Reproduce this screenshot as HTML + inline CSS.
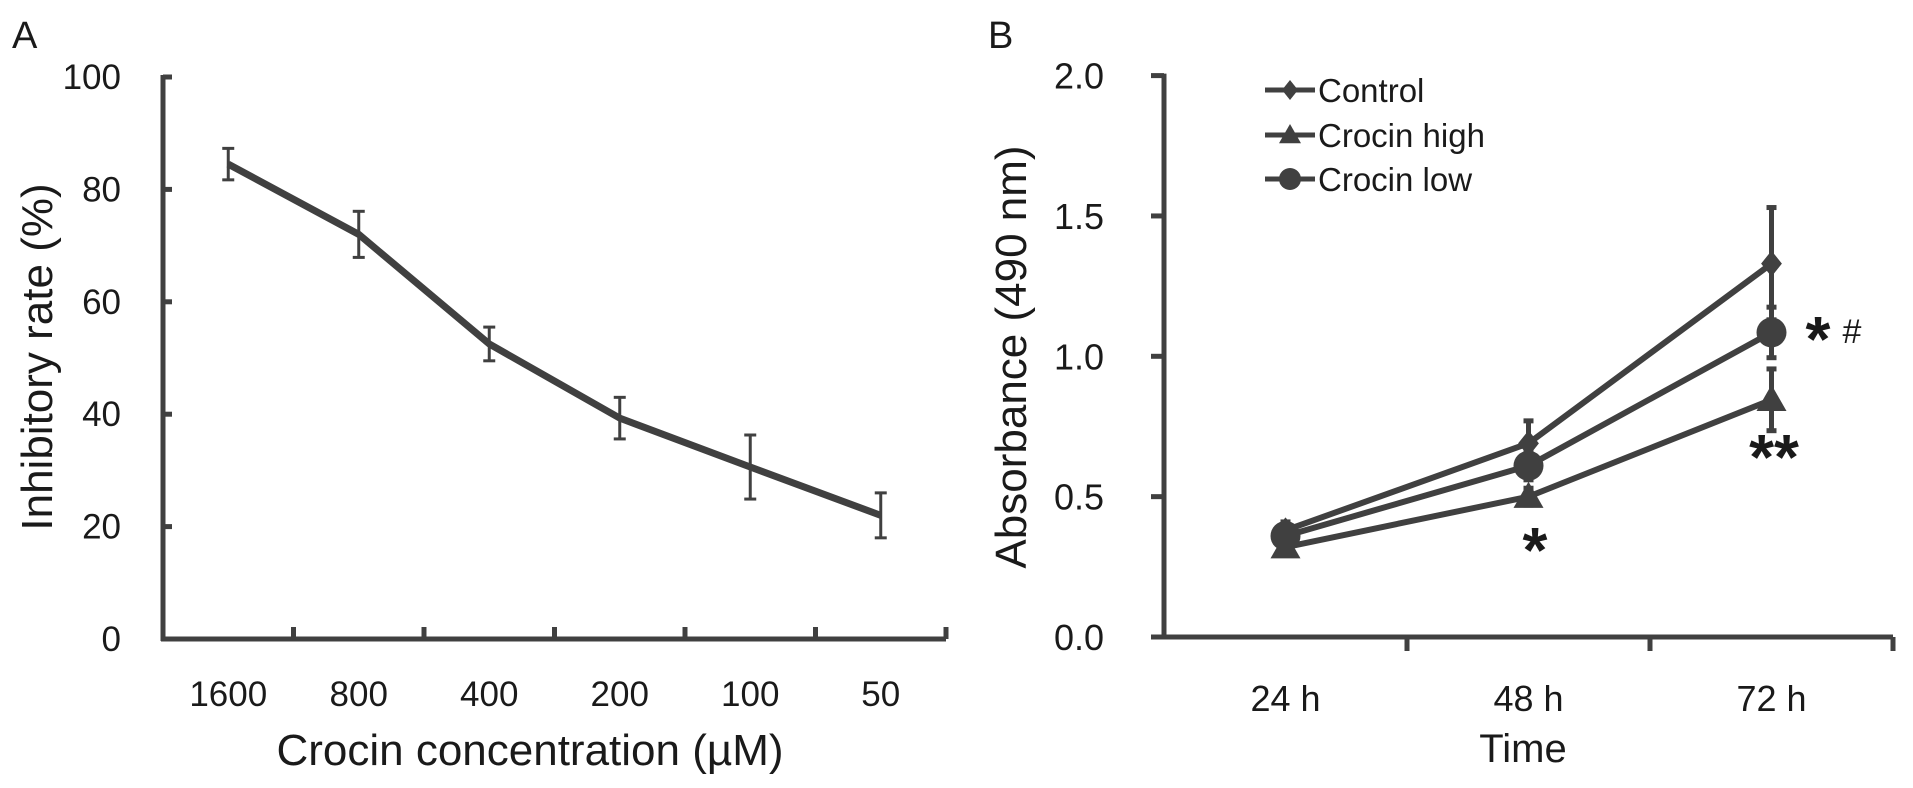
<!DOCTYPE html>
<html><head><meta charset="utf-8"><style>
html,body{margin:0;padding:0;background:#fff;}
svg{display:block;font-family:"Liberation Sans",Arial,sans-serif;}
</style></head><body>
<svg id="fig" width="1913" height="788" viewBox="0 0 1913 788">
<g id="pa"></g>
<g id="pb"></g>
</svg>
<script>
// Panel A data
const catsA = ["1600","800","400","200","100","50"];
const valsA = [84.5,72,52.5,39.3,30.6,22];
const errsA = [2.8,4.1,3.0,3.7,5.7,4.0];
const ticksA = [0,20,40,60,80,100];
// Panel B data
const catsB = ["24 h","48 h","72 h"];
const seriesNames = ["Control","Crocin high","Crocin low"];
const ctrlB = [0.38,0.69,1.33];
const highB = [0.32,0.50,0.845];
const lowB = [0.36,0.61,1.085];
const ctrlErr = [0.03,0.08,0.2];
const highErr = [0.02,0.03,0.11];
const lowErr = [0.02,0.05,0.09];
const ticksB = [0,0.5,1.0,1.5,2.0];

const NS="http://www.w3.org/2000/svg";
const C="#404040", T="#1a1a1a";
function mk(p,tag,attrs,txt){const e=document.createElementNS(NS,tag);for(const k in attrs)e.setAttribute(k,attrs[k]);if(txt!=null)e.textContent=txt;p.appendChild(e);return e;}

// ---------- Panel A ----------
const pa=document.getElementById('pa');
const ax0=163, ax1=946, ay0=639, ay1=77;
const yA=v=>ay0-(v/100)*(ay0-ay1);
const bwA=(ax1-ax0)/catsA.length;
const xA=i=>ax0+bwA*(i+0.5);
let t=mk(pa,'text',{x:12,y:48,'font-size':38,fill:T},'A');

let l=mk(pa,'line',{x1:ax0,y1:ay1-2,x2:ax0,y2:ay0+2,stroke:C,'stroke-width':5});

l=mk(pa,'line',{x1:ax0-2,y1:ay0,x2:ax1,y2:ay0,stroke:C,'stroke-width':5});

ticksA.forEach(v=>{
  const tk=mk(pa,'line',{x1:ax0,y1:yA(v),x2:ax0+9,y2:yA(v),stroke:C,'stroke-width':5});
  
  const tl=mk(pa,'text',{x:121,y:yA(v)+12,'font-size':35,'text-anchor':'end',fill:T},String(v));
  
});
catsA.forEach((c,i)=>{
  const bx=ax0+bwA*(i+1);
  const tk=mk(pa,'line',{x1:bx,y1:ay0,x2:bx,y2:ay0-12,stroke:C,'stroke-width':5});
  
  const tl=mk(pa,'text',{x:xA(i),y:706,'font-size':35,'text-anchor':'middle',fill:T},c);
  
});
t=mk(pa,'text',{x:530,y:765,'font-size':44,'text-anchor':'middle',fill:T},'Crocin concentration (µM)');

t=mk(pa,'text',{x:0,y:0,'font-size':44,'text-anchor':'middle',fill:T,transform:'translate(52,357) rotate(-90)'},'Inhibitory rate (%)');

let ptsA=valsA.map((v,i)=>xA(i)+','+yA(v)).join(' ');
l=mk(pa,'polyline',{points:ptsA,fill:'none',stroke:C,'stroke-width':7,'stroke-linejoin':'round'});

valsA.forEach((v,i)=>{
  const g=mk(pa,'g',{stroke:C,'stroke-width':3});
  
  const x=xA(i),y1=yA(v+errsA[i]),y2=yA(v-errsA[i]);
  mk(g,'line',{x1:x,y1:y1,x2:x,y2:y2});
  mk(g,'line',{x1:x-6,y1:y1,x2:x+6,y2:y1});
  mk(g,'line',{x1:x-6,y1:y2,x2:x+6,y2:y2});
});

// ---------- Panel B ----------
const pb=document.getElementById('pb');
const bx0=1164, bx1=1893, by0=637, by1=75.6;
const yB=v=>by0-(v/2)*(by0-by1);
const bwB=(bx1-bx0)/catsB.length;
const xB=i=>bx0+bwB*(i+0.5);
t=mk(pb,'text',{x:988,y:48,'font-size':38,fill:T},'B');

l=mk(pb,'line',{x1:bx0,y1:by1-2,x2:bx0,y2:by0+2,stroke:C,'stroke-width':5});

l=mk(pb,'line',{x1:bx0-2,y1:by0,x2:bx1,y2:by0,stroke:C,'stroke-width':5});

ticksB.forEach(v=>{
  const tk=mk(pb,'line',{x1:bx0-13,y1:yB(v),x2:bx0,y2:yB(v),stroke:C,'stroke-width':5});
  
  const tl=mk(pb,'text',{x:1104,y:yB(v)+13,'font-size':36,'text-anchor':'end',fill:T},v.toFixed(1));
  
});
catsB.forEach((c,i)=>{
  const bx=bx0+bwB*(i+1);
  const tk=mk(pb,'line',{x1:bx,y1:by0,x2:bx,y2:by0+14,stroke:C,'stroke-width':5});
  
  const tl=mk(pb,'text',{x:xB(i),y:711,'font-size':36,'text-anchor':'middle',fill:T},c);
  
});
t=mk(pb,'text',{x:1523,y:762,'font-size':40,'text-anchor':'middle',fill:T},'Time');

t=mk(pb,'text',{x:0,y:0,'font-size':44,'text-anchor':'middle',fill:T,transform:'translate(1026,357) rotate(-90)'},'Absorbance (490 nm)');


function marker(p,type,x,y,s){
  if(type==='diamond') return mk(p,'polygon',{points:`${x},${y-s} ${x+s*0.8},${y} ${x},${y+s} ${x-s*0.8},${y}`,fill:C});
  if(type==='triangle') return mk(p,'polygon',{points:`${x},${y-s} ${x+s},${y+s*0.75} ${x-s},${y+s*0.75}`,fill:C});
  return mk(p,'circle',{cx:x,cy:y,r:s,fill:C});
}
const seriesB=[[ctrlB,ctrlErr,'diamond',13,'control'],[highB,highErr,'triangle',15,'crocin-high'],[lowB,lowErr,'circle',15,'crocin-low']];
seriesB.forEach(([vals,errs,type,s,nm])=>{
  const g=mk(pb,'g',{});
  
  vals.forEach((v,i)=>{
    const eb=mk(g,'g',{stroke:C,'stroke-width':5});
    
    const x=xB(i);
    mk(eb,'line',{x1:x,y1:yB(v+errs[i]),x2:x,y2:yB(v-errs[i])});
    mk(eb,'line',{x1:x-5,y1:yB(v+errs[i]),x2:x+5,y2:yB(v+errs[i])});
    mk(eb,'line',{x1:x-5,y1:yB(v-errs[i]),x2:x+5,y2:yB(v-errs[i])});
  });
  const ln=mk(g,'polyline',{points:vals.map((v,i)=>xB(i)+','+yB(v)).join(' '),fill:'none',stroke:C,'stroke-width':6});
  
  vals.forEach((v,i)=>{
    const m=marker(g,type,xB(i),yB(v),s);
    
  });
});
// legend
const legTypes=['diamond','triangle','circle'];
const legY=[90,135,179];
seriesNames.forEach((n,i)=>{
  const g=mk(pb,'g',{});
  
  mk(g,'line',{x1:1265,y1:legY[i],x2:1315,y2:legY[i],stroke:C,'stroke-width':5});
  marker(g,legTypes[i],1290,legY[i],i===0?10:11);
  mk(g,'text',{x:1318,y:legY[i]+12,'font-size':33,fill:T},n);
});
// significance marks
[[1535,572,'*',64,'sig-48h-high'],[1774,479,'**',64,'sig-72h-high'],[1818,361,'*',64,'sig-72h-low']].forEach(([x,y,s,f,nm])=>{
  const tt=mk(pb,'text',{x:x,y:y,'font-size':f,'font-weight':'bold','text-anchor':'middle',fill:T},s);
  
});
t=mk(pb,'text',{x:1852,y:343,'font-size':34,'text-anchor':'middle',fill:T},'#');

</script>
</body></html>
